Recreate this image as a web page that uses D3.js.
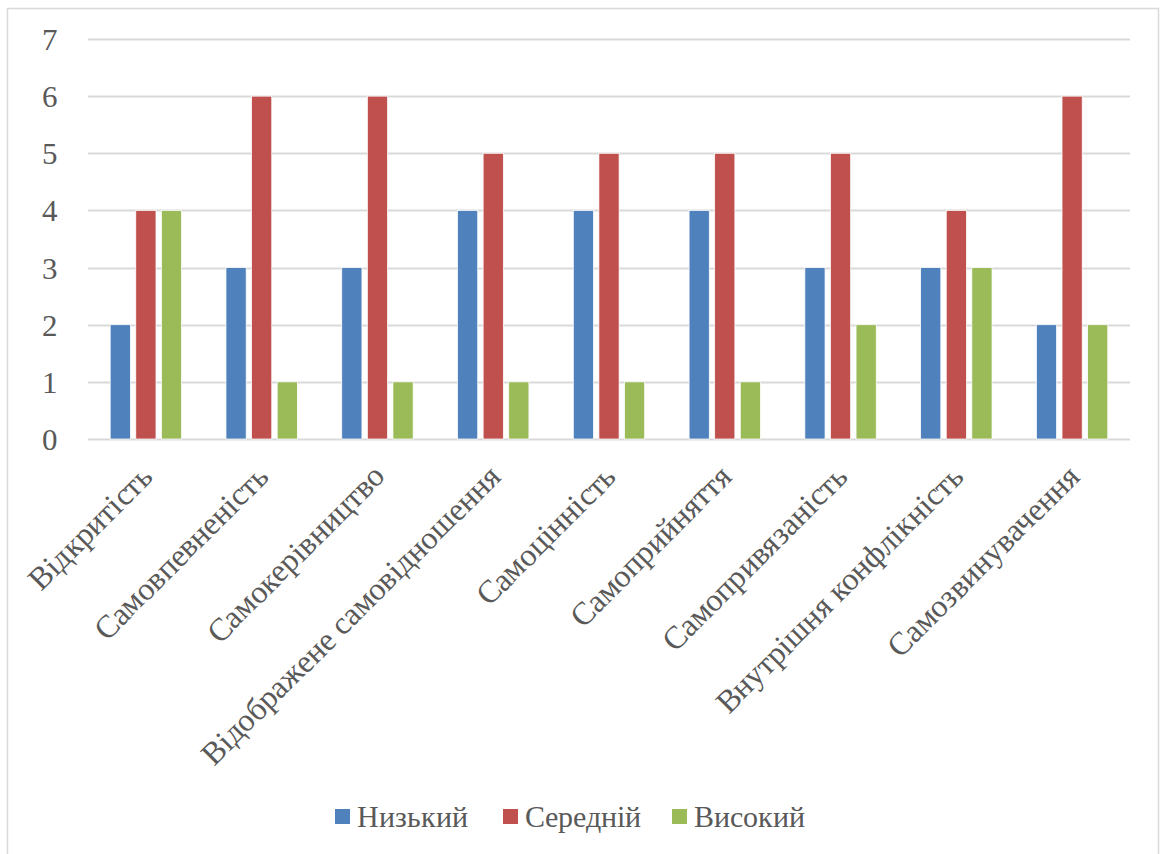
<!DOCTYPE html>
<html><head><meta charset="utf-8">
<script src="https://cdn.jsdelivr.net/npm/d3@7"></script>
<style>
@font-face { font-family: "ChartSerif"; src: local("Liberation Serif"), local("LiberationSerif"), local("Tinos"), local("Times New Roman"); }
</style>
</head><body style="margin:0">
<script>
const categories = ["Відкритість","Самовпевненість","Самокерівництво","Відображене самовідношення","Самоцінність","Самоприйняття","Самопривязаність","Внутрішня конфлікність","Самозвинувачення"];
const seriesNames = ["Низький","Середній","Високий"];
const low = [2,3,3,4,4,4,3,3,2];
const mid = [4,6,6,5,5,5,5,4,6];
const high = [4,1,1,1,1,1,2,3,2];
const yTicks = [0,1,2,3,4,5,6,7];
const colors = ["#4F81BD","#C0504D","#9BBB59"];

const W = 1164, H = 854;
const FONT = '"ChartSerif", "Liberation Serif", "Times New Roman", serif';
const svg = d3.select("body").append("svg").attr("width", W).attr("height", H)
  .style("font-family", FONT).style("display","block");
const textColor = "#595959";

svg.append("rect").attr("x",7.5).attr("y",8.5).attr("width",1151).attr("height",860)
  .attr("fill","#fff").attr("stroke","#D9D9D9").attr("stroke-width",1.5);

const x0 = d3.scaleBand().domain(categories).range([88,1130]).paddingInner(0).paddingOuter(0);
const x1 = d3.scaleBand().domain(seriesNames).range([0,x0.bandwidth()]).paddingInner(0.211).paddingOuter(0.867);
const y = d3.scaleLinear().domain([0,7]).range([439,39]);

svg.append("g").selectAll("line").data(yTicks).join("line")
  .attr("x1",88).attr("x2",1130).attr("y1",d=>Math.round(y(d))+0.5).attr("y2",d=>Math.round(y(d))+0.5)
  .attr("stroke","#D9D9D9").attr("stroke-width",2);

svg.append("g").selectAll("text").data(yTicks).join("text")
  .attr("x",58).attr("y",d=>y(d)+11).attr("text-anchor","end")
  .style("font-family",FONT).style("font-size","31px").attr("fill",textColor).text(d=>d);

const data = [low, mid, high];
const groups = svg.append("g").selectAll("g").data(categories).join("g")
  .attr("transform",d=>`translate(${x0(d)},0)`);
groups.selectAll("rect").data((c,i)=>seriesNames.map((s,j)=>({s, v:data[j][i], j})))
  .join("rect")
  .attr("x",d=>x1(d.s)).attr("width",x1.bandwidth())
  .attr("y",d=>y(d.v)).attr("height",d=>y(0)-y(d.v))
  .attr("fill",d=>colors[d.j]).attr("stroke","#fff").attr("stroke-width",0.75);

svg.append("g").selectAll("text").data(categories).join("text")
  .attr("transform",d=>`translate(${x0(d)+x0.bandwidth()/2+2},${471}) rotate(-45)`)
  .attr("text-anchor","end").attr("y",10)
  .style("font-family",FONT).style("font-size","32px").attr("fill",textColor).text(d=>d);

const legendX = [335,503,672];
const lg = svg.append("g").selectAll("g").data(seriesNames).join("g")
  .attr("transform",(d,i)=>`translate(${legendX[i]},809)`);
lg.append("rect").attr("width",15).attr("height",15).attr("fill",(d,i)=>colors[i]);
lg.append("text").attr("x",22).attr("y",18)
  .style("font-family",FONT).style("font-size","30px").attr("fill",textColor).text(d=>d);
</script>
</body></html>
